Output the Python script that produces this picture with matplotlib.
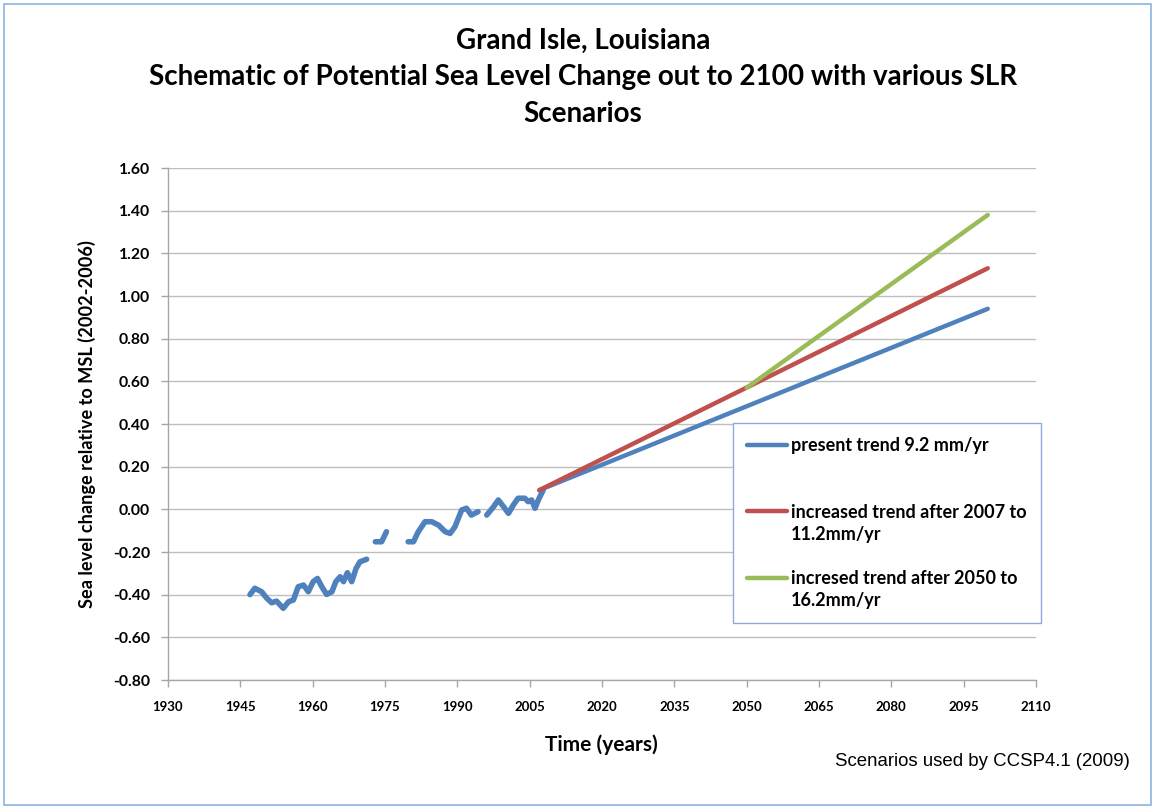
import numpy as np
import matplotlib
matplotlib.use("Agg")
import matplotlib.pyplot as plt
from matplotlib.patches import Rectangle
from matplotlib.legend_handler import HandlerLine2D
from matplotlib.lines import Line2D

# ---- data ----
hist_years = [1947.0, 1948.0, 1949.4, 1950.5, 1951.5, 1952.5, 1953.9, 1955.0, 1956.0, 1957.0,
              1958.1, 1959.1, 1960.1, 1961.0, 1961.9, 1962.9, 1964.0, 1964.8, 1965.7, 1966.4,
              1967.2, 1968.1, 1969.0, 1969.8, 1971.2, np.nan,
              1973.0, 1974.3, 1975.3, np.nan,
              1979.8, 1980.9, 1981.9, 1983.3, 1984.7, 1986.1, 1987.5, 1988.5, 1989.5, 1990.9,
              1991.9, 1992.9, 1994.3, np.nan,
              1996.1, 1997.5, 1998.5, 1999.6, 2000.6, 2001.6, 2002.6, 2004.0, 2004.7, 2005.4,
              2006.1, 2006.8, 2007.8]
hist_values = [-0.40, -0.37, -0.386, -0.417, -0.438, -0.43, -0.464, -0.433, -0.425, -0.363,
               -0.355, -0.386, -0.339, -0.324, -0.363, -0.399, -0.386, -0.339, -0.316, -0.339,
               -0.297, -0.339, -0.277, -0.246, -0.234, np.nan,
               -0.152, -0.152, -0.105, np.nan,
               -0.152, -0.152, -0.105, -0.058, -0.058, -0.074, -0.105, -0.113, -0.082, -0.003,
               0.005, -0.027, -0.011, np.nan,
               -0.027, 0.012, 0.044, 0.012, -0.019, 0.020, 0.052, 0.052, 0.036, 0.044,
               0.005, 0.044, 0.090]

present_years = [2007, 2100]
present_values = [0.09, 0.94]
increased_years = [2007, 2100]
increased_values = [0.09, 1.13]
increased2050_years = [2050, 2100]
increased2050_values = [0.57, 1.38]

labels = ["present trend 9.2 mm/yr\n ",
          "increased trend after 2007 to\n11.2mm/yr",
          "incresed trend after 2050 to\n16.2mm/yr"]
x_ticks = list(range(1930, 2111, 15))
y_ticks = [-0.80, -0.60, -0.40, -0.20, 0.00, 0.20, 0.40, 0.60, 0.80, 1.00, 1.20, 1.40, 1.60]

title = "Grand Isle, Louisiana\nSchematic of Potential Sea Level Change out to 2100 with various SLR\nScenarios"

# ---- style ----
plt.rcParams['font.family'] = ['Lato', 'DejaVu Sans']
plt.rcParams['axes.unicode_minus'] = False

BLUE = '#4F81BD'
RED = '#C0504D'
GREEN = '#9BBB59'
GRID = '#BEBEBE'

W, H = 1155, 809
fig = plt.figure(figsize=(W / 100, H / 100), dpi=100)
fig.patch.set_facecolor('white')
fig.patches.append(Rectangle((4 / W, 4 / H), 1147 / W, 801 / H, transform=fig.transFigure,
                             fill=False, edgecolor='#8DB3E2', linewidth=1.2))

ax = fig.add_axes([168 / W, 1 - 680 / H, (1036 - 168) / W, (680 - 168) / H])
ax.set_xlim(1930, 2110)
ax.set_ylim(-0.80, 1.60)
ax.set_xticks(x_ticks)
ax.set_yticks(y_ticks)
ax.set_yticklabels([f"{v:.2f}" for v in y_ticks])
ax.grid(axis='y', color=GRID, linewidth=1.0)
ax.set_axisbelow(True)
for s in ['top', 'right']:
    ax.spines[s].set_visible(False)
for s in ['left', 'bottom']:
    ax.spines[s].set_color('#A6A6A6')
    ax.spines[s].set_linewidth(1.0)
ax.tick_params(axis='both', direction='out', length=5, color='#A6A6A6', width=1.0)
ax.tick_params(axis='x', labelsize=9.5, pad=10)
ax.tick_params(axis='y', labelsize=11.3, pad=8)
for t in ax.get_xticklabels() + ax.get_yticklabels():
    t.set_fontweight('bold')

ax.plot(hist_years, hist_values, color=BLUE, linewidth=4.0, solid_capstyle='round',
        solid_joinstyle='round')
l1, = ax.plot(present_years, present_values, color=BLUE, linewidth=3.2, solid_capstyle='round')
l2, = ax.plot(increased_years, increased_values, color=RED, linewidth=3.2, solid_capstyle='round')
l3, = ax.plot(increased2050_years, increased2050_values, color=GREEN, linewidth=3.2,
              solid_capstyle='round')

LEG_FS = 13.0
LEG_LS = 1.36


class FirstLineHandler(HandlerLine2D):
    """Put the legend line beside the first line of a two-line label."""
    def __init__(self, shift, **kw):
        super().__init__(**kw)
        self.shift = shift

    def create_artists(self, legend, orig_handle, xdescent, ydescent, width, height,
                       fontsize, trans):
        arts = super().create_artists(legend, orig_handle, xdescent, ydescent, width,
                                      height, fontsize, trans)
        for a in arts:
            if isinstance(a, Line2D):
                a.set_ydata(np.asarray(a.get_ydata()) + self.shift)
        return arts


handler = FirstLineHandler(shift=0.5 * LEG_LS * LEG_FS)
leg = ax.legend([l1, l2, l3], labels, loc='upper left',
                bbox_to_anchor=(733 / W, 1 - 423 / H), bbox_transform=fig.transFigure,
                frameon=True, fancybox=False, framealpha=1, edgecolor='#8FAADC',
                prop={'weight': 'bold', 'size': LEG_FS}, handlelength=2.2,
                handletextpad=0.2, labelspacing=1.5, borderpad=0.8, borderaxespad=0,
                handler_map={Line2D: handler})
for t in leg.get_texts():
    t.set_linespacing(LEG_LS)
leg.get_frame().set_linewidth(1.0)
leg.set_zorder(5)

fig.text(583 / W, 1 - 77 / H, title, ha='center', va='center', fontsize=20,
         fontweight='bold', linespacing=1.5)
ax.set_ylabel("Sea level change relative to MSL (2002-2006)", fontsize=13.1,
              fontweight='bold', labelpad=12)
fig.text(601 / W, 1 - 745 / H, "Time (years)", ha='center', va='center', fontsize=15,
         fontweight='bold')
fig.text(1130 / W, 1 - 762 / H, "Scenarios used by CCSP4.1 (2009)", ha='right', va='center',
         fontsize=13.4, family='Liberation Sans')

fig.savefig('out.png', dpi=100)
